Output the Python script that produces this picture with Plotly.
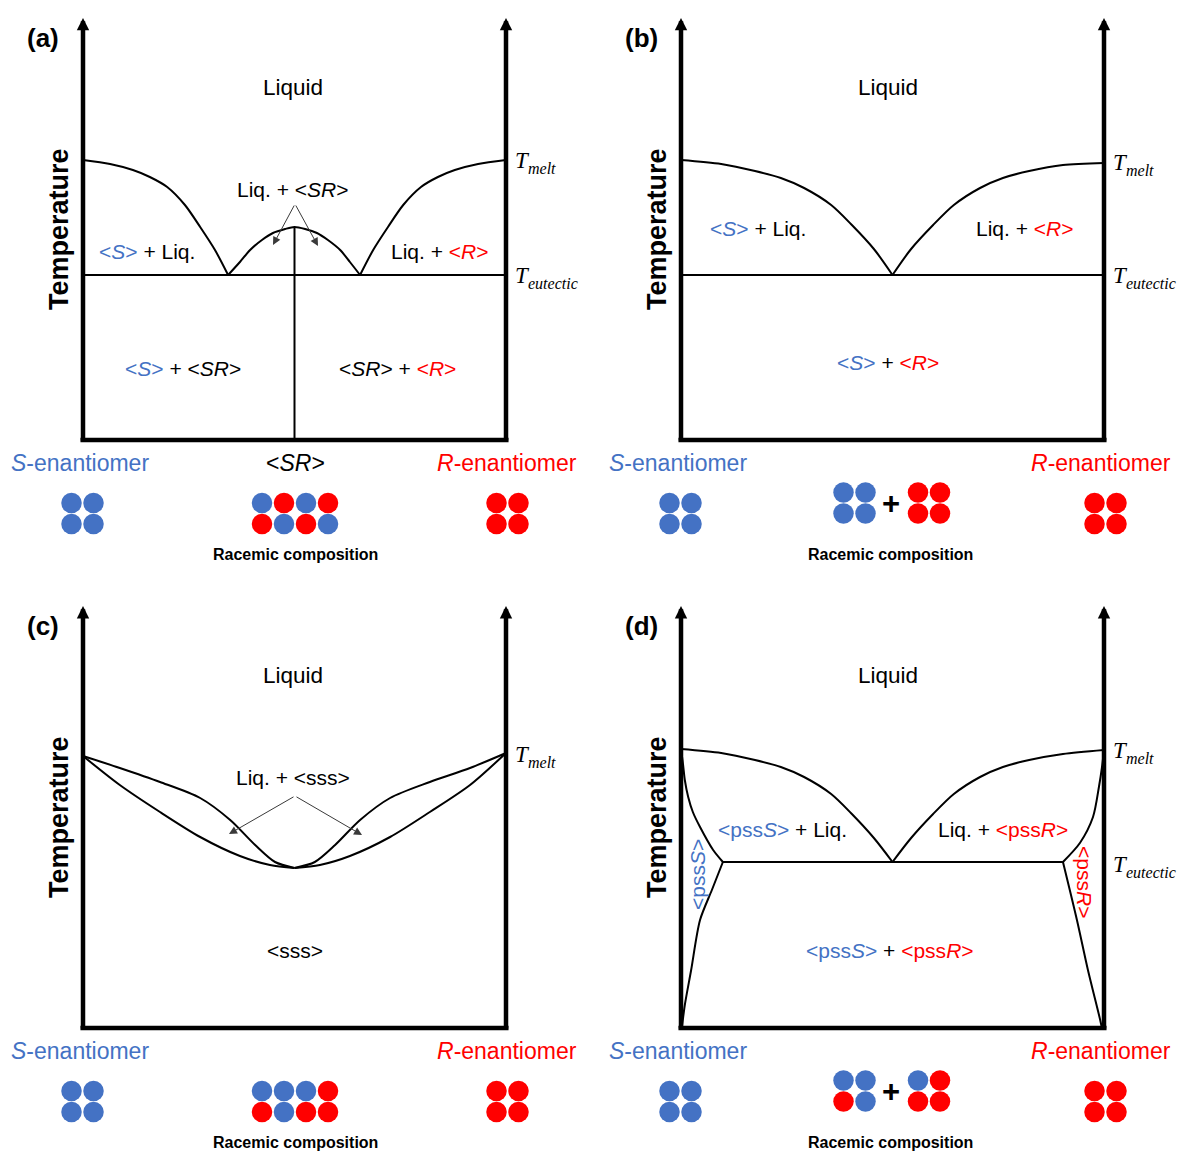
import plotly.graph_objects as go

# ---------------------------------------------------------------- data
# Composition = mole fraction of the R-enantiomer (0 = pure S, 1 = pure R).
# Temperature in arbitrary units above the bottom of each diagram.

# (a) racemic compound
a_liqS_x = [0.0, 0.064, 0.118, 0.158, 0.199, 0.241, 0.277, 0.312, 0.343]
a_liqS_T = [280, 276, 270, 263, 253, 235, 213, 190, 165]
a_liqSR_x = [0.343, 0.371, 0.395, 0.423, 0.449, 0.478, 0.5, 0.525, 0.553, 0.579, 0.608, 0.631, 0.655]
a_liqSR_T = [165, 178, 190, 200, 207, 211, 213, 211, 207, 200, 190, 178, 165]
a_liqR_x = [0.655, 0.686, 0.721, 0.757, 0.799, 0.839, 0.879, 0.934, 1.0]
a_liqR_T = [165, 190, 213, 235, 253, 263, 270, 276, 280]
a_eutectic_T = 165
a_compound_T = 213

# (b) conglomerate
b_liqS_x = [0.0, 0.095, 0.175, 0.236, 0.291, 0.355, 0.404, 0.456, 0.5]
b_liqS_T = [280, 276, 269, 262, 252, 235, 215, 191, 165]
b_liqR_x = [0.5, 0.544, 0.596, 0.645, 0.707, 0.761, 0.823, 0.903, 1.0]
b_liqR_T = [165, 191, 215, 235, 252, 262, 269, 275, 277]
b_eutectic_T = 165

# (c) continuous solid solution with a minimum
c_upS_x = [0.0, 0.087, 0.182, 0.277, 0.348, 0.407, 0.454, 0.5]
c_upS_T = [272, 260, 246, 230, 208, 183, 166, 160]
c_loS_x = [0.0, 0.087, 0.182, 0.277, 0.371, 0.442, 0.5]
c_loS_T = [272, 243, 216, 191, 172, 163, 160]
c_upR_x = [0.5, 0.548, 0.596, 0.655, 0.726, 0.820, 0.915, 1.0]
c_upR_T = [160, 166, 183, 208, 230, 246, 260, 275]
c_loR_x = [0.5, 0.560, 0.631, 0.726, 0.820, 0.915, 1.0]
c_loR_T = [160, 163, 172, 191, 216, 243, 275]

# (d) partial solid solutions
d_liqS_x = [0.0, 0.095, 0.175, 0.236, 0.291, 0.355, 0.404, 0.456, 0.5]
d_liqS_T = [279, 275, 268, 261, 251, 234, 214, 190, 166]
d_liqR_x = [0.5, 0.544, 0.596, 0.645, 0.707, 0.761, 0.823, 0.903, 1.0]
d_liqR_T = [166, 190, 214, 234, 251, 261, 268, 274, 278]
d_solS_x = [0.0, 0.005, 0.009, 0.017, 0.028, 0.045, 0.076, 0.099]
d_solS_T = [279, 263, 248, 231, 216, 201, 178, 166]
d_solvS_x = [0.099, 0.073, 0.045, 0.024, 0.009, 0.002]
d_solvS_T = [166, 138, 108, 58, 23, 0]
d_solR_x = [1.0, 0.995, 0.988, 0.974, 0.943, 0.903]
d_solR_T = [278, 260, 241, 211, 185, 166]
d_solvR_x = [0.903, 0.936, 0.962, 0.991, 0.995]
d_solvR_T = [166, 108, 58, 8, 0]
d_eutectic_T = 166
d_eutectic_x = [0.099, 0.903]

# molecule pictograms (S / R)
pure_S = [["S", "S"], ["S", "S"]]
pure_R = [["R", "R"], ["R", "R"]]
a_racemate = [["S", "R", "S", "R"], ["R", "S", "R", "S"]]
c_racemate = [["S", "S", "S", "R"], ["R", "S", "R", "R"]]
b_racemate = [[["S", "S"], ["S", "S"]], [["R", "R"], ["R", "R"]]]
d_racemate = [[["S", "S"], ["R", "S"]], [["S", "R"], ["R", "R"]]]

T_AXIS_TOP = 422

# ---------------------------------------------------------------- styling / layout
BLUE = "#4472C4"
RED = "#FF0000"
DOT = {"S": BLUE, "R": RED}
SANS = "Liberation Sans, Arial, sans-serif"
SERIF = "Liberation Serif, Times New Roman, serif"

W, H = 1178, 1151
PX_X = 423.0              # pixels per composition unit
COL_X0 = [83, 681]        # pixel of composition 0
ROW_BASE = [440, 1028]    # pixel of T = 0
COL_W, ROW_H = W / 2, H / 2

PANELS = {"a": (0, 0), "b": (1, 0), "c": (0, 1), "d": (1, 1)}
AX = {}

fig = go.Figure()
for i, (key, (col, row)) in enumerate(PANELS.items()):
    sfx = "" if i == 0 else str(i + 1)
    AX[key] = ("x" + sfx, "y" + sfx, col, row)
    left_px = col * COL_W
    top_px = row * ROW_H
    xr = [(left_px - COL_X0[col]) / PX_X, (left_px + COL_W - COL_X0[col]) / PX_X]
    yr = [ROW_BASE[row] - (top_px + ROW_H), ROW_BASE[row] - top_px]
    fig.update_layout({
        "xaxis" + sfx: dict(domain=[col * 0.5, col * 0.5 + 0.5], range=xr, visible=False,
                            anchor="y" + sfx, fixedrange=True),
        "yaxis" + sfx: dict(domain=[0.5 - row * 0.5, 1.0 - row * 0.5], range=yr, visible=False,
                            anchor="x" + sfx, fixedrange=True),
    })


def px2d(key, px, py):
    xa, ya, col, row = AX[key]
    return (px - COL_X0[col]) / PX_X, ROW_BASE[row] - py


def curve(key, xs, ys, width=2, spline=True, color="black"):
    xa, ya, _, _ = AX[key]
    fig.add_trace(go.Scatter(
        x=xs, y=ys, mode="lines", xaxis=xa, yaxis=ya, hoverinfo="skip", showlegend=False,
        line=dict(color=color, width=width, shape="spline" if spline else "linear", smoothing=0.8)))


def label(key, px, py, text, size=21, color="black", family=SANS, angle=0, xanchor="center",
          pad=1):
    xa, ya, _, _ = AX[key]
    x, y = px2d(key, px, py)
    fig.add_annotation(x=x, y=y, xref=xa, yref=ya, text=text, showarrow=False,
                       font=dict(size=size, color=color, family=family), textangle=angle,
                       xanchor=xanchor, yanchor="middle", borderpad=pad)


def pointer(key, tail_px, tip_px):
    xa, ya, _, _ = AX[key]
    tail = px2d(key, *tail_px)
    tip = px2d(key, *tip_px)
    fig.add_annotation(x=tip[0], y=tip[1], ax=tail[0], ay=tail[1], xref=xa, yref=ya,
                       axref=xa, ayref=ya, text="", showarrow=True, arrowhead=2,
                       arrowsize=1.6, arrowwidth=1, arrowcolor="#3a3a3a")


def dots(key, cpx, cpy, pattern, dx=22, dy=21):
    xa, ya, _, _ = AX[key]
    xs, ys, cs = [], [], []
    nr, nc = len(pattern), len(pattern[0])
    for r, rowp in enumerate(pattern):
        for k, s in enumerate(rowp):
            x, y = px2d(key, cpx + (k - (nc - 1) / 2) * dx, cpy + (r - (nr - 1) / 2) * dy)
            xs.append(x); ys.append(y); cs.append(DOT[s])
    fig.add_trace(go.Scatter(x=xs, y=ys, mode="markers", xaxis=xa, yaxis=ya, hoverinfo="skip",
                             showlegend=False, marker=dict(size=20.5, color=cs, line=dict(width=0))))


def frame(key):
    xa, ya, _, _ = AX[key]
    curve(key, [-0.006, 1.006], [0, 0], width=4.5, spline=False)
    for xc in (0.0, 1.0):
        fig.add_annotation(x=xc, y=T_AXIS_TOP, ax=xc, ay=-2, xref=xa, yref=ya, axref=xa, ayref=ya,
                           text="", showarrow=True, arrowhead=2, arrowsize=0.55,
                           arrowwidth=4.5, arrowcolor="black")


def tlabel(key, px, level_py, sub):
    # italic T followed by a smaller, lowered italic subscript
    label(key, px, level_py, "<i>T</i>", size=23, family=SERIF, xanchor="left", pad=0)
    label(key, px + 13, level_py + 8, "<i>%s</i>" % sub, size=16, family=SERIF,
          xanchor="left", pad=0)


def blue(s):
    return '<span style="color:%s">%s</span>' % (BLUE, s)


def red(s):
    return '<span style="color:%s">%s</span>' % (RED, s)


def common(key, dx, dy, letter):
    label(key, 43 + dx, 38 + dy, "<b>(%s)</b>" % letter, size=26)
    label(key, 59 + dx, 229 + dy, "<b>Temperature</b>", size=27, angle=-90)
    label(key, 293 + dx - (3 if dx else 0), 87 + dy, "Liquid", size=22.5)
    label(key, 80 + dx, 463 + dy, blue("<i>S</i>-enantiomer"), size=23)
    label(key, 507 + dx - 4 * (dx > 0), 463 + dy, red("<i>R</i>-enantiomer"), size=23)
    dots(key, 82.5 + dx, 513.5 + dy, pure_S)
    dots(key, 507.5 + dx, 513.5 + dy, pure_R)
    label(key, 295 + dx - 3 * (dx > 0), 554 + dy, "<b>Racemic composition</b>", size=16)


# ---------------------------------------------------------------- (a)
frame("a")
common("a", 0, 0, "a")
curve("a", a_liqS_x, a_liqS_T)
curve("a", a_liqSR_x, a_liqSR_T)
curve("a", a_liqR_x, a_liqR_T)
curve("a", [0, 1], [a_eutectic_T, a_eutectic_T], spline=False)
curve("a", [0.5, 0.5], [0, a_compound_T], spline=False)
label("a", 293, 189, "Liq. + &lt;<i>SR</i>&gt;")
label("a", 147, 251, blue("&lt;<i>S</i>&gt;") + " + Liq.")
label("a", 440, 251, "Liq. + " + red("&lt;<i>R</i>&gt;"))
label("a", 183, 368, blue("&lt;<i>S</i>&gt;") + " + &lt;<i>SR</i>&gt;")
label("a", 397, 368, "&lt;<i>SR</i>&gt; + " + red("&lt;<i>R</i>&gt;"))
label("a", 295, 463, "&lt;<i>SR</i>&gt;", size=23)
pointer("a", (295, 204), (273, 245))
pointer("a", (295, 204), (318, 246))
tlabel("a", 514, 160, "melt")
tlabel("a", 514, 275, "eutectic")
dots("a", 295, 513.5, a_racemate)

# ---------------------------------------------------------------- (b)
frame("b")
common("b", 598, 0, "b")
curve("b", b_liqS_x, b_liqS_T)
curve("b", b_liqR_x, b_liqR_T)
curve("b", [0, 1], [b_eutectic_T, b_eutectic_T], spline=False)
label("b", 758, 228, blue("&lt;<i>S</i>&gt;") + " + Liq.")
label("b", 1025, 228, "Liq. + " + red("&lt;<i>R</i>&gt;"))
label("b", 888, 362, blue("&lt;<i>S</i>&gt;") + " + " + red("&lt;<i>R</i>&gt;"))
tlabel("b", 1112, 162, "melt")
tlabel("b", 1112, 275, "eutectic")
dots("b", 854.5, 503, b_racemate[0])
dots("b", 929, 503, b_racemate[1])
label("b", 891, 503, "<b>+</b>", size=31)

# ---------------------------------------------------------------- (c)
frame("c")
common("c", 0, 588, "c")
curve("c", c_upS_x, c_upS_T)
curve("c", c_loS_x, c_loS_T)
curve("c", c_upR_x, c_upR_T)
curve("c", c_loR_x, c_loR_T)
label("c", 293, 777, "Liq. + &lt;sss&gt;")
label("c", 295, 950, "&lt;sss&gt;")
pointer("c", (295, 796), (229, 834))
pointer("c", (295, 796), (362, 835))
tlabel("c", 514, 754, "melt")
dots("c", 295, 1101.5, c_racemate)

# ---------------------------------------------------------------- (d)
frame("d")
common("d", 598, 588, "d")
curve("d", d_liqS_x, d_liqS_T)
curve("d", d_liqR_x, d_liqR_T)
curve("d", d_solS_x, d_solS_T)
curve("d", d_solvS_x, d_solvS_T)
curve("d", d_solR_x, d_solR_T)
curve("d", d_solvR_x, d_solvR_T)
curve("d", d_eutectic_x, [d_eutectic_T, d_eutectic_T], spline=False)
label("d", 782, 829, blue("&lt;pss<i>S</i>&gt;") + " + Liq.")
label("d", 1003, 829, "Liq. + " + red("&lt;pss<i>R</i>&gt;"))
label("d", 890, 950, blue("&lt;pss<i>S</i>&gt;") + " + " + red("&lt;pss<i>R</i>&gt;"))
label("d", 697, 875, "&lt;pss<i>S</i>&gt;", color=BLUE, angle=-90)
label("d", 1085, 882, "&lt;pss<i>R</i>&gt;", color=RED, angle=90)
tlabel("d", 1112, 750, "melt")
tlabel("d", 1112, 864, "eutectic")
dots("d", 854.5, 1091, d_racemate[0])
dots("d", 929, 1091, d_racemate[1])
label("d", 891, 1091, "<b>+</b>", size=31)

fig.update_layout(width=W, height=H, margin=dict(l=0, r=0, t=0, b=0),
                  paper_bgcolor="white", plot_bgcolor="white", showlegend=False)
fig.write_html("out.html")
